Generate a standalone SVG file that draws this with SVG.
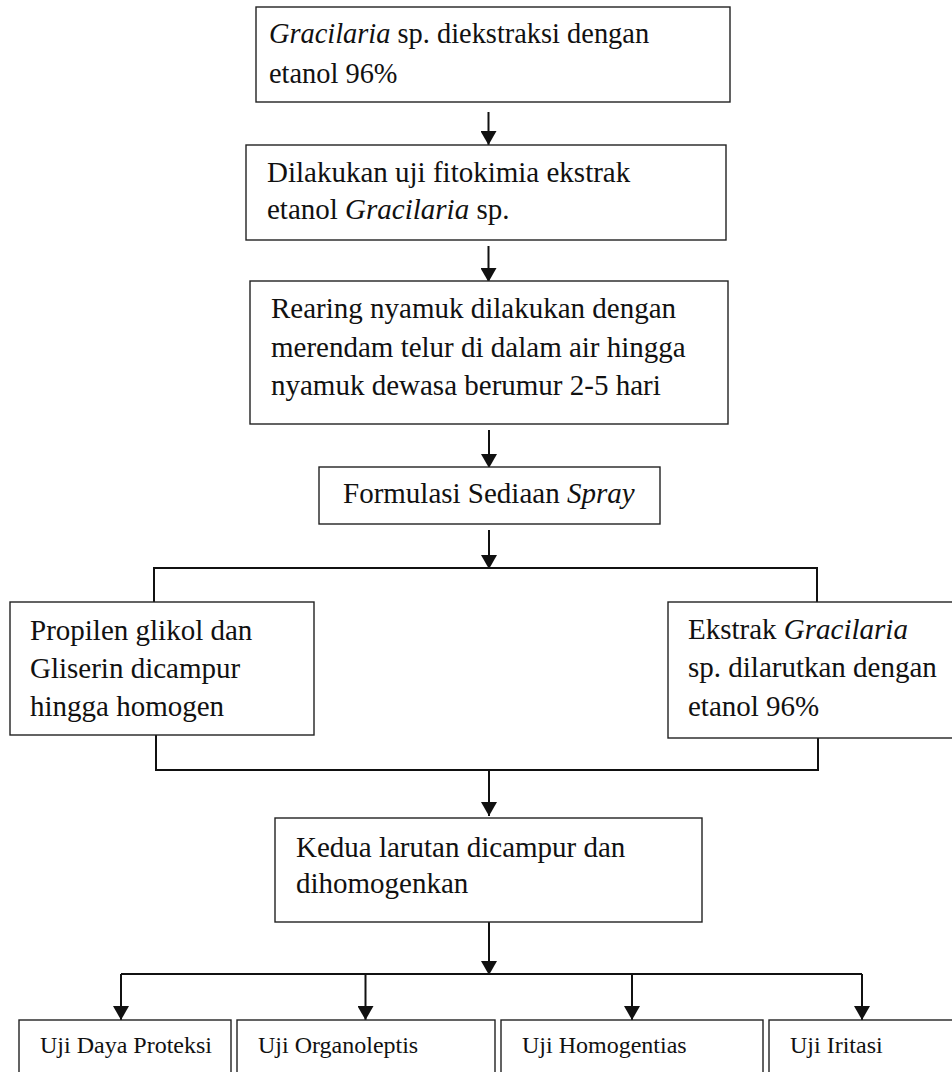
<svg xmlns="http://www.w3.org/2000/svg" width="952" height="1072" viewBox="0 0 952 1072">
<style>
.box{fill:#fff;stroke:#222;stroke-width:1.4}
.t{font-size:29px;fill:#111}
.t1{font-size:28.4px;fill:#111}
.s{font-size:24px;fill:#111}
.c{fill:none;stroke:#111;stroke-width:2}
</style>
<defs>
<marker id="ah" viewBox="0 0 14 16" refX="14" refY="8" markerWidth="14" markerHeight="16" markerUnits="userSpaceOnUse" orient="auto">
<path d="M0,0 L14,8 L0,16 z" fill="#111"/>
</marker>
</defs>
<rect width="952" height="1072" fill="#fff"/>
<g id="connectors">
<line class="c" x1="488.5" y1="112" x2="488.5" y2="145" marker-end="url(#ah)"/>
<line class="c" x1="488.5" y1="246" x2="488.5" y2="282" marker-end="url(#ah)"/>
<line class="c" x1="489" y1="430" x2="489" y2="468" marker-end="url(#ah)"/>
<line class="c" x1="489" y1="530" x2="489" y2="569" marker-end="url(#ah)"/>
<polyline class="c" points="154,602 154,568 817,568 817,602"/>
<polyline class="c" points="156,735 156,770 818,770 818,738"/>
<line class="c" x1="489" y1="770" x2="489" y2="816" marker-end="url(#ah)"/>
<line class="c" x1="489" y1="922" x2="489" y2="975" marker-end="url(#ah)"/>
<line class="c" x1="121" y1="974" x2="862" y2="974"/>
<line class="c" x1="121" y1="974" x2="121" y2="1020" marker-end="url(#ah)"/>
<line class="c" x1="365.5" y1="974" x2="365.5" y2="1020" marker-end="url(#ah)"/>
<line class="c" x1="632" y1="974" x2="632" y2="1020" marker-end="url(#ah)"/>
<line class="c" x1="862" y1="974" x2="862" y2="1020" marker-end="url(#ah)"/>
</g>
<g font-family="Liberation Serif, Tinos, DejaVu Serif, serif">
<g id="n1">
<rect class="box" x="256" y="7" width="474" height="95"/>
<text class="t1" x="269" y="43"><tspan font-style="italic">Gracilaria</tspan> sp. diekstraksi dengan</text>
<text class="t1" x="269" y="83">etanol 96%</text>
</g>
<g id="n2">
<rect class="box" x="246" y="145" width="480" height="95"/>
<text class="t" x="267" y="182">Dilakukan uji fitokimia ekstrak</text>
<text class="t" x="267" y="219">etanol <tspan font-style="italic">Gracilaria</tspan> sp.</text>
</g>
<g id="n3">
<rect class="box" x="250" y="281" width="478" height="143"/>
<text class="t" x="271" y="318">Rearing nyamuk dilakukan dengan</text>
<text class="t" x="271" y="357">merendam telur di dalam air hingga</text>
<text class="t" x="271" y="395">nyamuk dewasa berumur 2-5 hari</text>
</g>
<g id="n4">
<rect class="box" x="319" y="467" width="341" height="57"/>
<text class="t" x="343" y="503">Formulasi Sediaan <tspan font-style="italic">Spray</tspan></text>
</g>
<g id="n5">
<rect class="box" x="10" y="602" width="304" height="133"/>
<text class="t" x="30" y="640">Propilen glikol dan</text>
<text class="t" x="30" y="678">Gliserin dicampur</text>
<text class="t" x="30" y="716">hingga homogen</text>
</g>
<g id="n6">
<rect class="box" x="668" y="602" width="292" height="136"/>
<text class="t" x="688" y="639">Ekstrak <tspan font-style="italic">Gracilaria</tspan></text>
<text class="t" x="688" y="677">sp. dilarutkan dengan</text>
<text class="t" x="688" y="716">etanol 96%</text>
</g>
<g id="n7">
<rect class="box" x="275" y="818" width="427" height="104"/>
<text class="t" x="296" y="857">Kedua larutan dicampur dan</text>
<text class="t" x="296" y="893">dihomogenkan</text>
</g>
<g id="n8">
<rect class="box" x="19" y="1020" width="212" height="70"/>
<text class="s" x="40" y="1053">Uji Daya Proteksi</text>
</g>
<g id="n9">
<rect class="box" x="237" y="1020" width="258" height="70"/>
<text class="s" x="258" y="1053">Uji Organoleptis</text>
</g>
<g id="n10">
<rect class="box" x="501" y="1020" width="262" height="70"/>
<text class="s" x="522" y="1053">Uji Homogentias</text>
</g>
<g id="n11">
<rect class="box" x="769" y="1020" width="200" height="70"/>
<text class="s" x="790" y="1053">Uji Iritasi</text>
</g>
</g>
</svg>
